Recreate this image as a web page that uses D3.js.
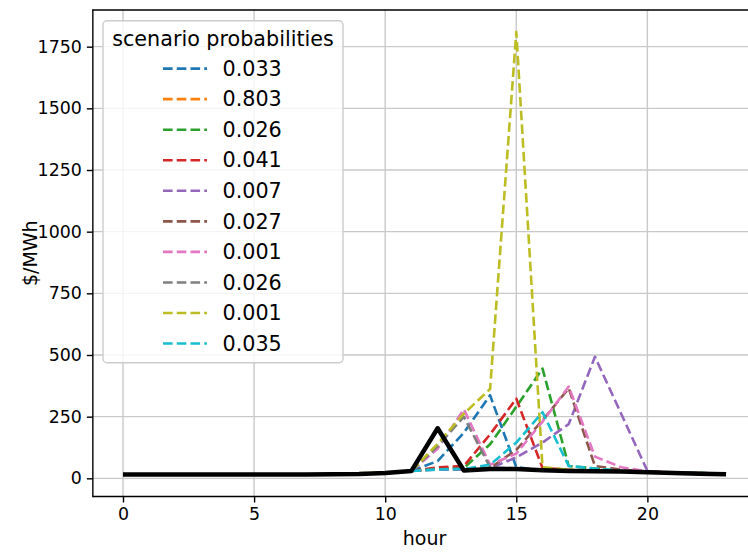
<!DOCTYPE html>
<html>
<head>
<meta charset="utf-8">
<script src="https://cdn.jsdelivr.net/npm/d3@7"></script>
<style>
  html, body { margin: 0; padding: 0; background: #fff; }
  svg { display: block; font-family: "DejaVu Sans", sans-serif; }
</style>
</head>
<body>
<svg id="chart" width="748" height="552"></svg>
<script>
// Hourly prices ($/MWh) for each price scenario and the realised price.
const hours = d3.range(0, 24);
const probabilities = ["0.033", "0.803", "0.026", "0.041", "0.007", "0.027", "0.001", "0.026", "0.001", "0.035"];

const scenario0 = [16,16,16,16,16,16,16,16,17,18,21,30,70,185,337,45,33,30,29,28,26,23,21,19];
const scenario1 = [16,16,16,16,16,16,16,16,17,18,21,30,38,38,40,38,33,30,29,28,26,23,21,19];
const scenario2 = [16,16,16,16,16,16,16,16,17,18,21,30,40,42,138,290,445,50,40,30,26,23,21,19];
const scenario3 = [16,16,16,16,16,16,16,16,17,18,21,30,44,50,178,323,42,35,30,28,26,23,21,19];
const scenario4 = [16,16,16,16,16,16,16,16,17,18,21,30,35,35,40,85,145,220,493,262,30,23,21,19];
const scenario5 = [16,16,16,16,16,16,16,16,17,18,21,30,38,40,42,115,235,365,50,35,27,23,21,19];
const scenario6 = [16,16,16,16,16,16,16,16,17,18,21,30,120,280,55,100,230,372,88,45,28,23,21,19];
const scenario7 = [16,16,16,16,16,16,16,16,17,18,21,30,130,250,45,40,33,30,29,28,26,23,21,19];
const scenario8 = [16,16,16,16,16,16,16,16,18,20,24,30,140,262,362,1809,45,35,30,28,26,23,21,19];
const scenario9 = [16,16,16,16,16,16,16,16,17,18,21,30,36,38,55,145,268,50,40,30,26,23,21,19];
const actualPrice = [16,16,16,16,16,16,16,16,17,18,22,30,203,32,38,38,33,30,29,28,25,22,19,17];

const scenarios = [scenario0, scenario1, scenario2, scenario3, scenario4,
                   scenario5, scenario6, scenario7, scenario8, scenario9];

const xTicks = [0, 5, 10, 15, 20];
const yTicks = [0, 250, 500, 750, 1000, 1250, 1500, 1750];

// Plot area (the right edge runs past the page width)
const plot = { left: 92.85, right: 756.2, top: 10, bottom: 496.5 };
const palette = d3.schemeCategory10;

const svg = d3.select("#chart");
svg.append("rect").attr("width", 748).attr("height", 552).attr("fill", "#fff");

// Scales with 5% padding around the data, as matplotlib does
const xExt = d3.extent(hours);
const xPad = (xExt[1] - xExt[0]) * 0.05;
const x = d3.scaleLinear().domain([xExt[0] - xPad, xExt[1] + xPad]).range([plot.left, plot.right]);

const allVals = scenarios.flat().concat(actualPrice);
const yExt = d3.extent(allVals);
const yPad = (yExt[1] - yExt[0]) * 0.05;
const y = d3.scaleLinear().domain([yExt[0] - yPad, yExt[1] + yPad]).range([plot.bottom, plot.top]);

svg.append("defs").append("clipPath").attr("id", "plotClip")
  .append("rect")
  .attr("x", plot.left).attr("y", plot.top)
  .attr("width", plot.right - plot.left).attr("height", plot.bottom - plot.top);

// Grid
const grid = svg.append("g").attr("stroke", "#c9c9c9").attr("stroke-width", 1.4);
grid.selectAll("line.gx").data(xTicks).join("line")
  .attr("x1", d => x(d)).attr("x2", d => x(d))
  .attr("y1", plot.top).attr("y2", plot.bottom);
grid.selectAll("line.gy").data(yTicks).join("line")
  .attr("x1", plot.left).attr("x2", plot.right)
  .attr("y1", d => y(d)).attr("y2", d => y(d));

// Lines
const line = d3.line().x((d, i) => x(hours[i])).y(d => y(d));
const lines = svg.append("g").attr("clip-path", "url(#plotClip)");
scenarios.forEach((s, i) => {
  lines.append("path")
    .attr("d", line(s))
    .attr("fill", "none")
    .attr("stroke", palette[i])
    .attr("stroke-width", 2.6)
    .attr("stroke-dasharray", "9.6,4.15")
    .attr("stroke-linejoin", "round");
});
lines.append("path")
  .attr("d", line(actualPrice))
  .attr("fill", "none")
  .attr("stroke", "#000")
  .attr("stroke-width", 4.5)
  .attr("stroke-linejoin", "round");

// Axes
const xAxis = d3.axisBottom(x).tickValues(xTicks).tickSize(6).tickPadding(5).tickFormat(d3.format("d"));
const yAxis = d3.axisLeft(y).tickValues(yTicks).tickSize(6).tickPadding(5).tickFormat(d3.format("d"));

const gx = svg.append("g").attr("transform", `translate(0,${plot.bottom})`).call(xAxis);
const gy = svg.append("g").attr("transform", `translate(${plot.left},0)`).call(yAxis);
[gx, gy].forEach(g => {
  g.select(".domain").remove();
  g.selectAll(".tick line").attr("stroke", "#000").attr("stroke-width", 1.4);
  g.selectAll(".tick text").attr("fill", "#000").attr("font-size", 17.4)
    .attr("font-family", "DejaVu Sans");
});
gx.selectAll(".tick text").attr("dy", "0.72em");

// Spines
const spines = svg.append("g").attr("stroke", "#000").attr("stroke-width", 1.4).attr("fill", "none");
spines.append("line").attr("x1", plot.left).attr("x2", plot.left).attr("y1", plot.top - 0.7).attr("y2", plot.bottom + 0.7);
spines.append("line").attr("x1", plot.left).attr("x2", plot.right).attr("y1", plot.bottom).attr("y2", plot.bottom);
spines.append("line").attr("x1", plot.left).attr("x2", plot.right).attr("y1", plot.top).attr("y2", plot.top);
spines.append("line").attr("x1", plot.right).attr("x2", plot.right).attr("y1", plot.top).attr("y2", plot.bottom);

// Axis labels
svg.append("text")
  .attr("x", (plot.left + plot.right) / 2).attr("y", 545)
  .attr("text-anchor", "middle").attr("font-size", 19).attr("fill", "#000")
  .text("hour");
svg.append("text")
  .attr("transform", `translate(37,${(plot.top + plot.bottom) / 2}) rotate(-90)`)
  .attr("text-anchor", "middle").attr("font-size", 19).attr("fill", "#000")
  .text("$/MWh");

// Legend
const legend = svg.append("g");
const lg = { x: 103, y: 20.7, w: 240, h: 342 };
legend.append("rect")
  .attr("x", lg.x).attr("y", lg.y).attr("width", lg.w).attr("height", lg.h)
  .attr("rx", 4).attr("ry", 4)
  .attr("fill", "#fff").attr("fill-opacity", 0.8)
  .attr("stroke", "#cccccc").attr("stroke-width", 1.4);
legend.append("text")
  .attr("x", lg.x + lg.w / 2).attr("y", 38.3).attr("dy", "0.35em")
  .attr("text-anchor", "middle").attr("font-size", 20.7).attr("fill", "#000")
  .text("scenario probabilities");
probabilities.forEach((p, i) => {
  const cy = 68.6 + i * 30.55;
  legend.append("line")
    .attr("x1", 163).attr("x2", 207).attr("y1", cy).attr("y2", cy)
    .attr("stroke", palette[i]).attr("stroke-width", 2.6)
    .attr("stroke-dasharray", "9.6,4.15");
  legend.append("text")
    .attr("x", 222.5).attr("y", cy).attr("dy", "0.35em")
    .attr("font-size", 20.7).attr("fill", "#000")
    .text(p);
});
</script>
</body>
</html>
